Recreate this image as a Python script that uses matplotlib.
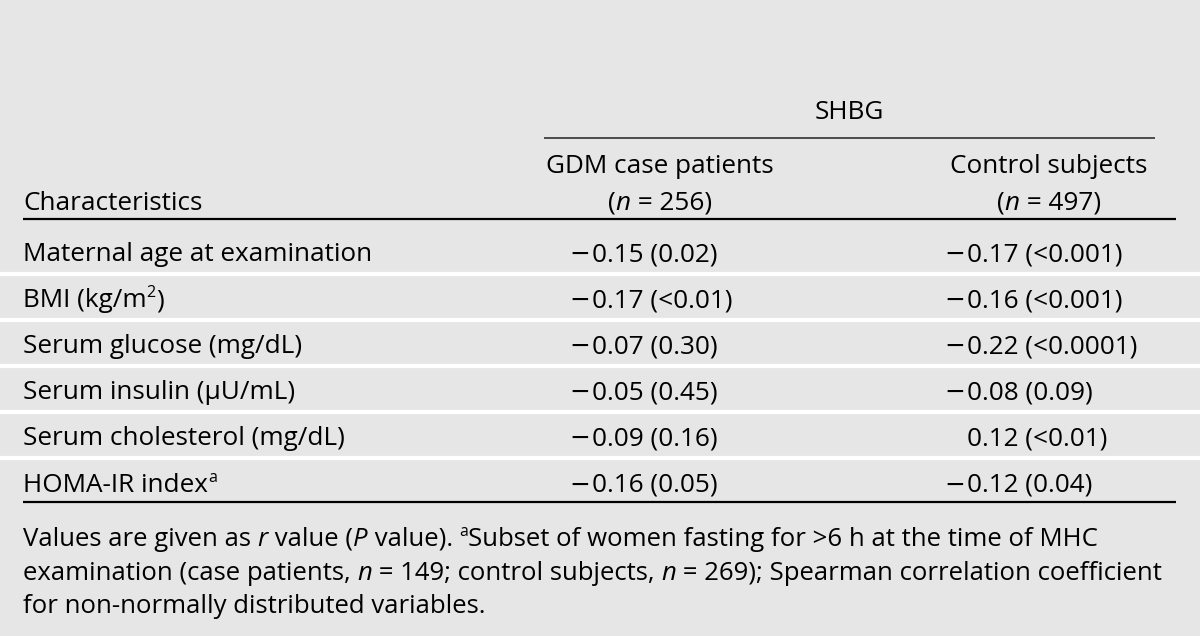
import matplotlib
matplotlib.use("Agg")
import matplotlib.pyplot as plt
from matplotlib import font_manager
from matplotlib.ft2font import FT2Font

# table content
col_header = "SHBG"
group_names = ["GDM case patients", "Control subjects"]
group_n = [256, 497]
# each label: (main text, superscript, text after superscript)
characteristics = [
    ("Maternal age at examination", "", ""),
    ("BMI (kg/m", "2", ")"),
    ("Serum glucose (mg/dL)", "", ""),
    ("Serum insulin (\u03bcU/mL)", "", ""),
    ("Serum cholesterol (mg/dL)", "", ""),
    ("HOMA-IR index", "a", ""),
]
gdm_r = [-0.15, -0.17, -0.07, -0.05, -0.09, -0.16]
gdm_p = ["0.02", "<0.01", "0.30", "0.45", "0.16", "0.05"]
ctrl_r = [-0.17, -0.16, -0.22, -0.08, 0.12, -0.12]
ctrl_p = ["<0.001", "<0.001", "<0.0001", "0.09", "<0.01", "0.04"]
# footnote lines as runs: (text, style)  style: r=regular, i=italic, s=superscript
footnote = [
    [("Values are given as ", "r"), ("r", "i"), (" value (", "r"), ("P", "i"), (" value). ", "r"),
     ("a", "s"), ("Subset of women fasting for >6 h at the time of MHC", "r")],
    [("examination (case patients, ", "r"), ("n", "i"), (" = 149; control subjects, ", "r"), ("n", "i"),
     (" = 269); Spearman correlation coefficient", "r")],
    [("for non-normally distributed variables.", "r")],
]

names = {f.name for f in font_manager.fontManager.ttflist}
body_font = "Open Sans" if "Open Sans" in names else "DejaVu Sans"

bg = "#e6e6e6"
fig = plt.figure(figsize=(12, 6.36), dpi=100, facecolor=bg)
ax = fig.add_axes([0, 0, 1, 1])
ax.set_xlim(0, 1200)
ax.set_ylim(636, 0)
ax.set_facecolor(bg)
ax.axis("off")
renderer = fig.canvas.get_renderer()


def text_w(s, **kw):
    # advance width in px (1 data unit = 1 px here), spaces included
    t = ax.text(0, 0, "|" + s + "|", **kw)
    t2 = ax.text(0, 0, "||", **kw)
    w = t.get_window_extent(renderer).width - t2.get_window_extent(renderer).width
    t.remove()
    t2.remove()
    return w


def style_kw(style, size, family):
    if style == "i":
        return dict(fontsize=size, family=family, style="italic"), 0
    if style == "s":
        return dict(fontsize=size * 0.62, family=family), -size * 100 / 72 * 0.38
    return dict(fontsize=size, family=family), 0


def draw_runs(x, y, runs, size, family, ha="left"):
    parts = [style_kw(st, size, family) + (s,) for s, st in runs]
    widths = [text_w(s, **kw) for kw, dy, s in parts]
    if ha == "center":
        x -= sum(widths) / 2
    for (kw, dy, s), w in zip(parts, widths):
        ax.text(x, y + dy, s, ha="left", va="baseline", **kw)
        x += w


def cap_px_per_pt(family):
    path = font_manager.findfont(font_manager.FontProperties(family=family))
    f = FT2Font(path)
    f.set_size(100, 100)
    g = f.load_char(ord("H"))
    return g.height / 64 / 100


# pick a face for the footnote: at ~18.5 px cap height, closest to 1150 px for line 2
line2 = "".join(s for s, st in footnote[1])
best = None
for cand in ["Barlow Semi Condensed", "Asap Condensed", "Archivo Narrow", "Barlow Condensed",
             "Liberation Sans Narrow", "Fira Sans Condensed", "IBM Plex Sans Condensed",
             "Encode Sans Semi Condensed", "Encode Sans Condensed", "PT Sans Narrow", body_font]:
    if cand not in names:
        continue
    size = 18.5 / cap_px_per_pt(cand)
    w = text_w(line2, fontsize=size, family=cand)
    if best is None or abs(w - 1150) < abs(best[2] - 1150):
        best = (cand, size, w)
foot_font, foot_fs, _ = best

fs = 18.8
left = 23
col_center = [660, 1049]
col_num_x = [592, 967]   # where digits start, minus sits left of it

# header
ax.text(849, 119, col_header, fontsize=fs, family=body_font, ha="center", va="baseline")
ax.plot([544, 1155], [137.5, 137.5], color="#333333", lw=1.2, solid_capstyle="butt")
for cx, name, n in zip(col_center, group_names, group_n):
    ax.text(cx, 173, name, fontsize=fs, family=body_font, ha="center", va="baseline")
    draw_runs(cx, 210, [("(", "r"), ("n", "i"), (" = %d)" % n, "r")], fs, body_font, ha="center")
ax.text(left, 210, "Characteristics", fontsize=fs, family=body_font, ha="left", va="baseline")
ax.plot([left, 1176], [219, 219], color="black", lw=1.6, solid_capstyle="butt")

# body rows
first_base = 261
pitch = 46.1
for i, (lab, sup, tail) in enumerate(characteristics):
    yb = first_base + i * pitch
    runs = [(lab, "r")]
    if sup:
        runs.append((sup, "s"))
    if tail:
        runs.append((tail, "r"))
    draw_runs(left, yb, runs, fs, body_font)
    for x0, r, p in zip(col_num_x, [gdm_r[i], ctrl_r[i]], [gdm_p[i], ctrl_p[i]]):
        if r < 0:
            # wide, thin minus like the typeset original
            ax.text(x0 - 2, yb, "\u2212", fontsize=fs * 0.95, family="DejaVu Sans",
                    ha="right", va="baseline")
        ax.text(x0, yb, "%.2f (%s)" % (abs(r), p), fontsize=fs, family=body_font, ha="left", va="baseline")
    if i < len(characteristics) - 1:
        ax.axhline(yb + 13, color="white", lw=3)
ax.plot([left, 1176], [502, 502], color="black", lw=1.6, solid_capstyle="butt")

# footnote
for j, runs in enumerate(footnote):
    draw_runs(left, 546 + j * 33.5, runs, foot_fs, foot_font)

fig.savefig("out.png", dpi=100, facecolor=bg)
